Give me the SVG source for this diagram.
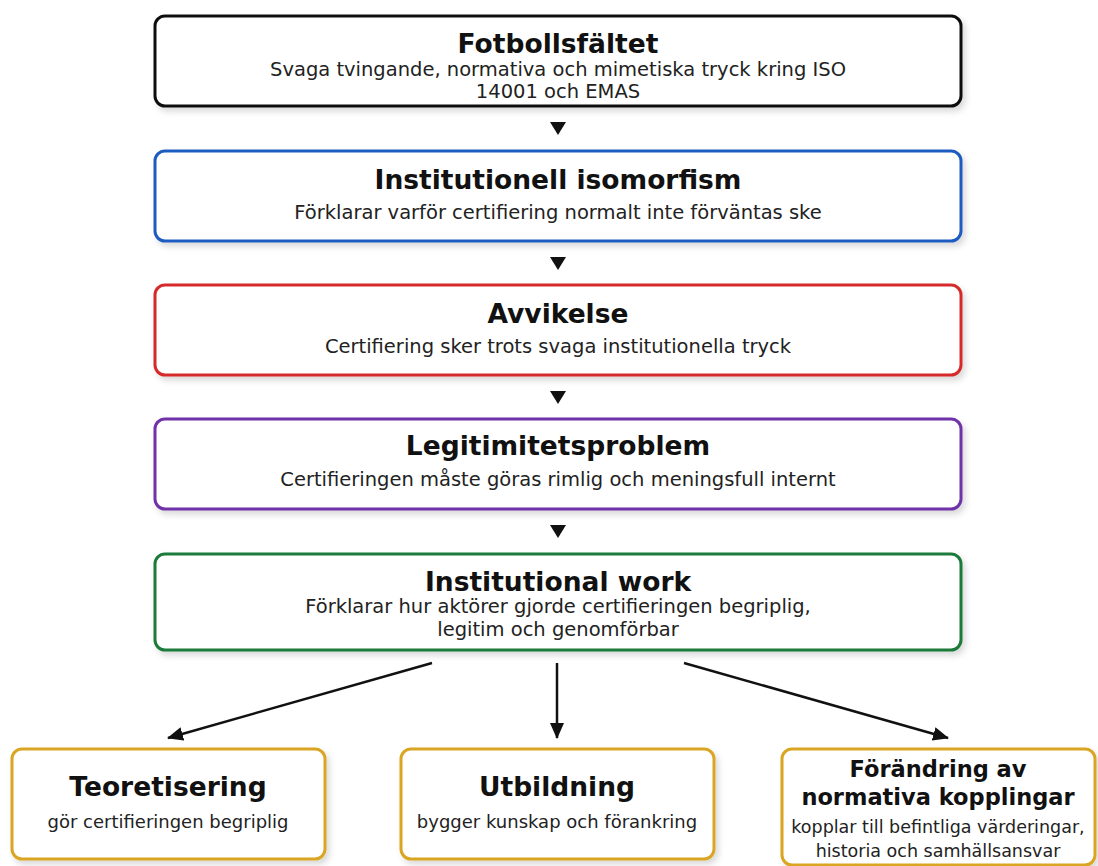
<svg xmlns="http://www.w3.org/2000/svg" width="1098" height="866" viewBox="0 0 1098 866">
<style>
.box{fill:#fff;stroke-width:3;filter:url(#sh)}
.t{font-family:"DejaVu Sans",sans-serif;font-weight:bold;font-size:26.5px;fill:#111;text-anchor:middle}
.s{font-family:"DejaVu Sans",sans-serif;font-size:19.5px;fill:#222;text-anchor:middle}
.b{font-family:"DejaVu Sans",sans-serif;font-size:18px;fill:#222;text-anchor:middle}
.c{stroke:#111;stroke-width:2.5;fill:none}
</style>
<defs>
<filter id="sh" x="-5%" y="-10%" width="110%" height="130%">
<feDropShadow dx="3" dy="4" stdDeviation="3" flood-color="#000" flood-opacity="0.15"/>
</filter>
<marker id="ah2" markerWidth="16" markerHeight="14" refX="15" refY="7" orient="auto" markerUnits="userSpaceOnUse" viewBox="0 0 16 14">
<path d="M0,0 L16,7 L0,14 z" fill="#111"/>
</marker>
</defs>
<rect width="1098" height="866" fill="#fff"/>

<g id="n1">
<rect class="box" x="155" y="16" width="806" height="90" rx="10" stroke="#111"/>
<text class="t" x="558" y="53">Fotbollsfältet</text>
<text class="s" x="558" y="76">Svaga tvingande, normativa och mimetiska tryck kring ISO</text>
<text class="s" x="558" y="98">14001 och EMAS</text>
</g>
<g id="n2">
<rect class="box" x="155" y="151" width="806" height="90" rx="10" stroke="#1f5cc0"/>
<text class="t" x="558" y="189">Institutionell isomorfism</text>
<text class="s" x="558" y="219">Förklarar varför certifiering normalt inte förväntas ske</text>
</g>
<g id="n3">
<rect class="box" x="155" y="285" width="806" height="90" rx="10" stroke="#d62c2c"/>
<text class="t" x="558" y="323">Avvikelse</text>
<text class="s" x="558" y="353">Certifiering sker trots svaga institutionella tryck</text>
</g>
<g id="n4">
<rect class="box" x="155" y="419" width="806" height="90" rx="10" stroke="#7030a8"/>
<text class="t" x="558" y="455">Legitimitetsproblem</text>
<text class="s" x="558" y="486">Certifieringen måste göras rimlig och meningsfull internt</text>
</g>
<g id="n5">
<rect class="box" x="155" y="554" width="806" height="96" rx="10" stroke="#1b7a3a"/>
<text class="t" x="558" y="591">Institutional work</text>
<text class="s" x="558" y="613">Förklarar hur aktörer gjorde certifieringen begriplig,</text>
<text class="s" x="558" y="636">legitim och genomförbar</text>
</g>
<g id="n6">
<rect class="box" x="12" y="749" width="313" height="110" rx="10" stroke="#d9a520"/>
<text class="t" x="168" y="796">Teoretisering</text>
<text class="b" x="168" y="828">gör certifieringen begriplig</text>
</g>
<g id="n7">
<rect class="box" x="401" y="749" width="313" height="110" rx="10" stroke="#d9a520"/>
<text class="t" x="557" y="796">Utbildning</text>
<text class="b" x="557" y="828">bygger kunskap och förankring</text>
</g>
<g id="n8">
<rect class="box" x="782" y="749" width="313" height="116" rx="10" stroke="#d9a520"/>
<text class="t" x="938" y="777" style="font-size:22.5px">Förändring av</text>
<text class="t" x="938" y="805" style="font-size:22.5px">normativa kopplingar</text>
<text class="b" x="938" y="833" style="font-size:17.5px">kopplar till befintliga värderingar,</text>
<text class="b" x="938" y="857" style="font-size:17.5px">historia och samhällsansvar</text>
</g>

<g id="connectors">
<path d="M550,122 L566,122 L558,135 z" fill="#111"/>
<path d="M550,257 L566,257 L558,270 z" fill="#111"/>
<path d="M550,391 L566,391 L558,404 z" fill="#111"/>
<path d="M550,525 L566,525 L558,538 z" fill="#111"/>
<line x1="432" y1="663" x2="168" y2="738" class="c" marker-end="url(#ah2)"/>
<line x1="557" y1="663" x2="557" y2="738" class="c" marker-end="url(#ah2)"/>
<line x1="684" y1="663" x2="948" y2="738" class="c" marker-end="url(#ah2)"/>
</g>
</svg>
